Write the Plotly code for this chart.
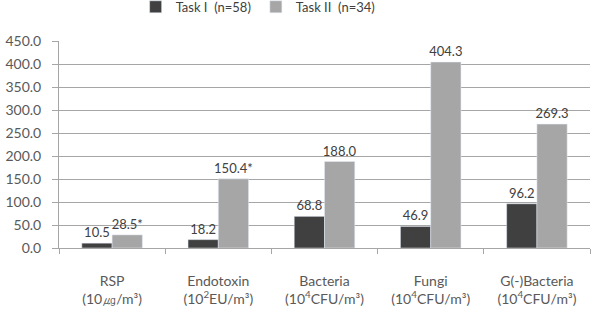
import plotly.graph_objects as go

categories = ["RSP<br>(10㎍/m³)", "Endotoxin<br>(10<sup>2</sup>EU/m³)", "Bacteria<br>(10<sup>4</sup>CFU/m³)",
              "Fungi<br>(10<sup>4</sup>CFU/m³)", "G(-)Bacteria<br>(10<sup>4</sup>CFU/m³)"]
task1 = [10.5, 18.2, 68.8, 46.9, 96.2]
task2 = [28.5, 150.4, 188.0, 404.3, 269.3]
task1_labels = ["10.5", "18.2", "68.8", "46.9", "96.2"]
task2_labels = ["28.5*", "150.4*", "188.0", "404.3", "269.3"]
series_names = ["Task I  (n=58)", "Task II  (n=34)"]

x = list(range(len(categories)))
font = dict(family="Lato, Open Sans, sans-serif", size=13, color="#595959")

fig = go.Figure()
fig.add_bar(x=x, y=task1, name=series_names[0], marker_color="#404040",
            text=task1_labels, textposition="outside", textfont=dict(size=13, color="#404040"),
            constraintext="none", cliponaxis=False)
fig.add_bar(x=x, y=task2, name=series_names[1], marker_color="#a6a6a6",
            text=task2_labels, textposition="outside", textfont=dict(size=13, color="#404040"),
            constraintext="none", cliponaxis=False)

fig.update_layout(
    width=598, height=333,
    margin=dict(l=59, r=8, t=41, b=85, autoexpand=False),
    paper_bgcolor="white", plot_bgcolor="white",
    font=font,
    barmode="group", bargap=0.43, bargroupgap=0,
    showlegend=True,
    legend=dict(orientation="h", x=0.375, xanchor="center", y=1.165, yref="paper", yanchor="middle",
                font=dict(size=13, color="#404040"), itemwidth=30, traceorder="normal",
                tracegroupgap=0),
    uniformtext=dict(mode=False),
)
fig.update_xaxes(
    tickmode="array", tickvals=x, ticktext=categories, range=[-0.5, 4.5],
    showline=True, linecolor="#a6a6a6", linewidth=1, showgrid=False, ticks="",
    ticklabelstandoff=20,
    minor=dict(tickmode="array", tickvals=[-0.5, 0.5, 1.5, 2.5, 3.5, 4.5], ticks="outside",
               ticklen=5, tickcolor="#a6a6a6", showgrid=False),
    tickfont=dict(size=14, color="#595959"),
)
fig.update_yaxes(
    range=[0, 450], dtick=50, tickformat=".1f",
    showline=True, linecolor="#a6a6a6", linewidth=1,
    showgrid=True, gridcolor="#a6a6a6", gridwidth=1,
    ticks="outside", ticklen=6, tickcolor="#a6a6a6",
    ticklabelstandoff=8,
    tickfont=dict(size=14, color="#595959"), zeroline=False,
)

fig.write_html("out.html")
